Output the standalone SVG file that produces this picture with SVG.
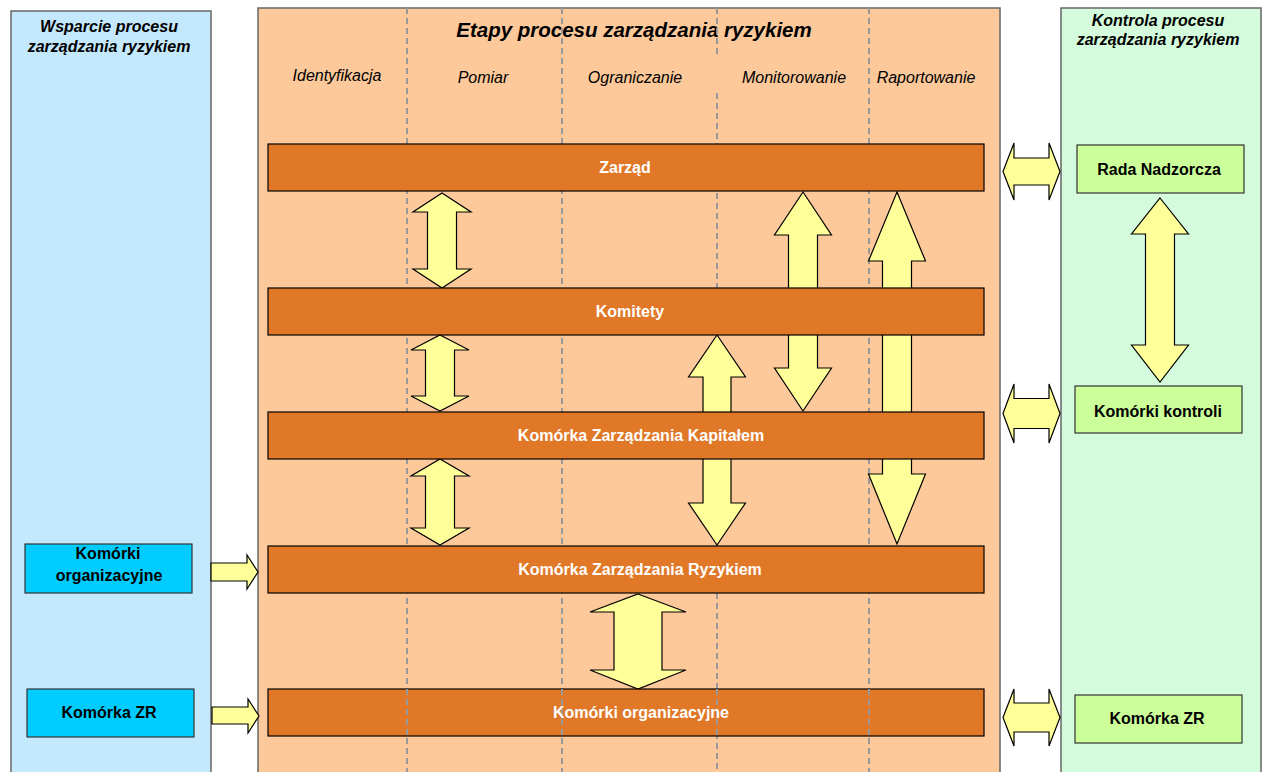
<svg xmlns="http://www.w3.org/2000/svg" width="1262" height="772" viewBox="0 0 1262 772">
<style>
.panel{stroke:#666;stroke-width:1.5}
.bar{fill:#E07828;stroke:#000;stroke-width:1.2}
.arr{fill:#FFFF99;stroke:#000;stroke-width:1.2;stroke-linejoin:miter}
.dash{stroke:#999;stroke-width:2;stroke-dasharray:6,4;fill:none}
.lbox{fill:#00CCFF;stroke:#333;stroke-width:1.2}
.rbox{fill:#CCFF99;stroke:#333;stroke-width:1.2}
text{font-family:"Liberation Sans",Arial,sans-serif;text-anchor:middle}
.hd{font-size:16px;font-weight:bold;font-style:italic;fill:#000}
.ttl{font-size:20.5px;font-weight:bold;font-style:italic;fill:#000}
.col{font-size:16px;font-style:italic;fill:#000}
.bt{font-size:16px;font-weight:bold;fill:#fff}
.nt{font-size:16px;font-weight:bold;fill:#000}
</style>
<rect width="1262" height="772" fill="#fff"/>
<g id="panel-wsparcie">
<rect class="panel" x="11" y="11" width="200" height="770" fill="#C5E9FC"/>
<text class="hd" x="109" y="32">Wsparcie procesu</text>
<text class="hd" x="109" y="52">zarządzania ryzykiem</text>
</g>
<g id="panel-etapy">
<rect class="panel" x="258" y="8" width="742" height="775" fill="#FDC99A"/>
<text class="ttl" x="634" y="37">Etapy procesu zarządzania ryzykiem</text>
<text class="col" x="337" y="81">Identyfikacja</text>
<text class="col" x="483" y="83">Pomiar</text>
<text class="col" x="635" y="83">Ograniczanie</text>
<text class="col" x="794" y="83">Monitorowanie</text>
<text class="col" x="926" y="83">Raportowanie</text>
</g>
<g id="panel-kontrola">
<rect class="panel" x="1061" y="8" width="200" height="775" fill="#D4FCDC"/>
<text class="hd" x="1158" y="26">Kontrola procesu</text>
<text class="hd" x="1158" y="45">zarządzania ryzykiem</text>
</g>
<g id="lanes">
<line class="dash" x1="407" y1="8" x2="407" y2="772"/>
<line class="dash" x1="562" y1="8" x2="562" y2="772"/>
<line class="dash" x1="717" y1="8" x2="717" y2="55"/>
<line class="dash" x1="717" y1="93" x2="717" y2="772"/>
<line class="dash" x1="869" y1="8" x2="869" y2="772"/>
</g>
<g id="connectors">
<polygon class="arr" points="442,193 471,212 456.5,212 456.5,269 471,269 442,288 413,269 427.5,269 427.5,212 413,212"/>
<polygon class="arr" points="440,335 469,350 454.5,350 454.5,396 469,396 440,411 411,396 425.5,396 425.5,350 411,350"/>
<polygon class="arr" points="440,459 469,476 454.5,476 454.5,528 469,528 440,545 411,528 425.5,528 425.5,476 411,476"/>
<polygon class="arr" points="803,192 831.5,235 817.5,235 817.5,368 831.5,368 803,411 774.5,368 788.5,368 788.5,235 774.5,235"/>
<polygon class="arr" points="897,192 925.5,261 911.5,261 911.5,474 925.5,474 897,544 868.5,474 882.5,474 882.5,261 868.5,261"/>
<polygon class="arr" points="717,335 745.5,377 731,377 731,503 745.5,503 717,545 688.5,503 703,503 703,377 688.5,377"/>
<polygon class="arr" points="638,594 686,612 662,612 662,670 686,670 638,689 590,670 614,670 614,612 590,612"/>
<polygon class="arr" points="1160,198 1188.5,234 1174.5,234 1174.5,345 1188.5,345 1160,382 1131.5,345 1145.5,345 1145.5,234 1131.5,234"/>
<polygon class="arr" points="1003,171.5 1014,143 1014,158 1049,158 1049,143 1060,171.5 1049,200 1049,185 1014,185 1014,200"/>
<polygon class="arr" points="1003,413.5 1014,384 1014,398.5 1049,398.5 1049,384 1060,413.5 1049,443 1049,428.5 1014,428.5 1014,443"/>
<polygon class="arr" points="1003,717.5 1014,689 1014,703 1049,703 1049,689 1060,717.5 1049,746 1049,732 1014,732 1014,746"/>
<polygon class="arr" points="211,563 247,563 247,555 258,572 247,589 247,581 211,581"/>
<polygon class="arr" points="212,707 248,707 248,699 259,716 248,733 248,724 212,724"/>
</g>
<g id="zarzad">
<rect class="bar" x="268" y="144" width="716" height="47"/>
<text class="bt" x="625" y="173">Zarząd</text>
</g>
<g id="komitety">
<rect class="bar" x="268" y="288" width="716" height="47"/>
<text class="bt" x="630" y="317">Komitety</text>
</g>
<g id="kzk">
<rect class="bar" x="268" y="412" width="716" height="47"/>
<text class="bt" x="641" y="441">Komórka Zarządzania Kapitałem</text>
</g>
<g id="kzr">
<rect class="bar" x="268" y="546" width="716" height="47"/>
<text class="bt" x="640" y="575">Komórka Zarządzania Ryzykiem</text>
</g>
<g id="komorki-org">
<rect class="bar" x="268" y="689" width="716" height="47"/>
<line class="dash" x1="407" y1="689" x2="407" y2="736"/>
<line class="dash" x1="562" y1="689" x2="562" y2="736"/>
<line class="dash" x1="717" y1="689" x2="717" y2="736"/>
<line class="dash" x1="869" y1="689" x2="869" y2="736"/>
<text class="bt" x="641" y="718">Komórki organizacyjne</text>
</g>
<g id="wsp-komorki-org">
<rect class="lbox" x="25" y="544" width="167" height="49"/>
<text class="nt" x="108" y="559">Komórki</text>
<text class="nt" x="109" y="581">organizacyjne</text>
</g>
<g id="wsp-komorka-zr">
<rect class="lbox" x="27" y="689" width="167" height="48"/>
<text class="nt" x="109" y="718">Komórka ZR</text>
</g>
<g id="rada-nadzorcza">
<rect class="rbox" x="1077" y="145" width="167" height="48"/>
<text class="nt" x="1159" y="175">Rada Nadzorcza</text>
</g>
<g id="komorki-kontroli">
<rect class="rbox" x="1075" y="386" width="167" height="47"/>
<text class="nt" x="1158" y="417">Komórki kontroli</text>
</g>
<g id="kon-komorka-zr">
<rect class="rbox" x="1075" y="695" width="167" height="48"/>
<text class="nt" x="1157" y="724">Komórka ZR</text>
</g>
</svg>
